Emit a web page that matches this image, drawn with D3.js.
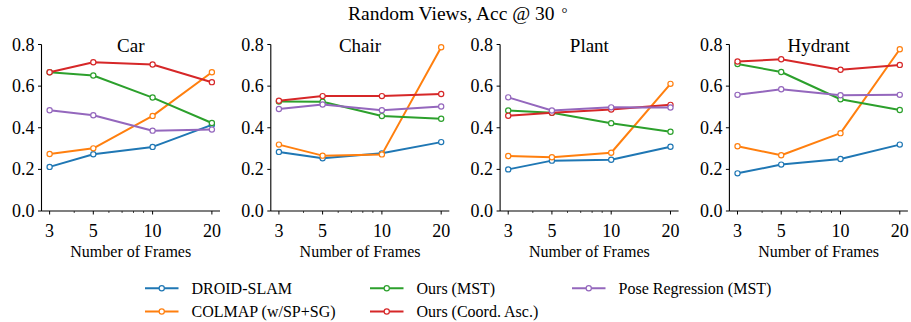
<!DOCTYPE html>
<html>
<head>
<meta charset="utf-8">
<script src="https://cdn.jsdelivr.net/npm/d3@7"></script>
<style>
  body { margin: 0; background: #fff; }
  svg { display: block; font-family: "Liberation Serif", "Times New Roman", serif; }
</style>
</head>
<body>
<svg id="chart" width="911" height="322"></svg>
<script>
const frames = [3, 5, 10, 20];
const panels = ["Car", "Chair", "Plant", "Hydrant"];
const yTicks = [0.0, 0.2, 0.4, 0.6, 0.8];
const minorTicks = [4, 6, 7, 8, 9];

const methods = ["DROID-SLAM", "COLMAP (w/SP+SG)", "Ours (MST)", "Ours (Coord. Asc.)", "Pose Regression (MST)"];
const colors = ["#1f77b4", "#ff7f0e", "#2ca02c", "#d62728", "#9467bd"];

// values per panel, in method order
const droidSlam = [
  [0.212, 0.273, 0.308, 0.414],
  [0.284, 0.253, 0.277, 0.331],
  [0.200, 0.242, 0.246, 0.309],
  [0.181, 0.223, 0.250, 0.319]
];
const colmap = [
  [0.274, 0.301, 0.457, 0.667],
  [0.319, 0.266, 0.272, 0.787],
  [0.264, 0.258, 0.280, 0.611],
  [0.311, 0.268, 0.374, 0.777]
];
const oursMst = [
  [0.667, 0.651, 0.545, 0.423],
  [0.526, 0.525, 0.456, 0.443],
  [0.483, 0.472, 0.422, 0.381],
  [0.706, 0.668, 0.537, 0.485]
];
const oursCoord = [
  [0.667, 0.715, 0.704, 0.619],
  [0.530, 0.552, 0.552, 0.562],
  [0.458, 0.472, 0.488, 0.510],
  [0.718, 0.729, 0.679, 0.702]
];
const poseReg = [
  [0.484, 0.460, 0.386, 0.391],
  [0.490, 0.512, 0.484, 0.502],
  [0.546, 0.483, 0.498, 0.497],
  [0.558, 0.585, 0.556, 0.558]
];
const series = [droidSlam, colmap, oursMst, oursCoord, poseReg];

const svg = d3.select("#chart");
const plotLefts = [41.5, 270.8, 500.1, 729.4];
const plotW = 178.5;
const plotTop = 44.5, plotBottom = 211;

// matplotlib-style 5% margin in log space
const pad = Math.pow(20 / 3, 0.05);
const y = d3.scaleLinear().domain([0, 0.8]).range([plotBottom, plotTop]);

const title = svg.append("text")
  .attr("x", 348).attr("y", 20)
  .attr("font-size", "19.5px")
  .text("Random Views, Acc @ 30");
title.append("tspan").attr("dx", 7).attr("dy", -2).attr("font-size", "15px").text("°");

panels.forEach((name, p) => {
  const x = d3.scaleLog().domain([3 / pad, 20 * pad]).range([plotLefts[p], plotLefts[p] + plotW]);
  const g = svg.append("g");
  const [x0, x1] = x.range();

  // spines
  g.append("line").attr("x1", x0).attr("x2", x0)
    .attr("y1", plotTop).attr("y2", plotBottom).attr("stroke", "#000").attr("stroke-width", 1.1);
  g.append("line").attr("x1", x0).attr("x2", x1)
    .attr("y1", plotBottom).attr("y2", plotBottom).attr("stroke", "#000").attr("stroke-width", 1.1);

  // y ticks
  yTicks.forEach(t => {
    g.append("line").attr("x1", x0 - 3.5).attr("x2", x0)
      .attr("y1", y(t)).attr("y2", y(t)).attr("stroke", "#000").attr("stroke-width", 1);
    g.append("text").attr("x", x0 - 7).attr("y", y(t) + 6)
      .attr("text-anchor", "end").attr("font-size", "18px").text(t.toFixed(1));
  });

  // x ticks
  frames.forEach(f => {
    g.append("line").attr("x1", x(f)).attr("x2", x(f))
      .attr("y1", plotBottom).attr("y2", plotBottom + 3.5).attr("stroke", "#000").attr("stroke-width", 1);
    g.append("text").attr("x", x(f)).attr("y", 237)
      .attr("text-anchor", "middle").attr("font-size", "18px").text(f);
  });
  minorTicks.forEach(f => {
    g.append("line").attr("x1", x(f)).attr("x2", x(f))
      .attr("y1", plotBottom).attr("y2", plotBottom + 2).attr("stroke", "#000").attr("stroke-width", 0.7);
  });

  g.append("text").attr("x", (x0 + x1) / 2).attr("y", 256.5)
    .attr("text-anchor", "middle").attr("font-size", "16px").text("Number of Frames");

  g.append("text").attr("x", (x0 + x1) / 2).attr("y", 52)
    .attr("text-anchor", "middle").attr("font-size", "19px").text(name);

  const line = d3.line().x((d, i) => x(frames[i])).y(d => y(d));
  series.forEach((s, k) => {
    g.append("path").datum(s[p]).attr("d", line)
      .attr("fill", "none").attr("stroke", colors[k]).attr("stroke-width", 2)
      .attr("stroke-linejoin", "round").attr("stroke-linecap", "round");
    g.selectAll(null).data(s[p]).enter().append("circle")
      .attr("cx", (d, i) => x(frames[i])).attr("cy", d => y(d)).attr("r", 2.6)
      .attr("fill", "#fff").attr("stroke", colors[k]).attr("stroke-width", 1.2);
  });
});

// legend, filled column by column (ncol = 3)
const legX = [145, 370, 572];
const legY = [288.3, 311.5];
methods.forEach((m, k) => {
  const col = Math.floor(k / 2), row = k % 2;
  const lx = legX[col], ly = legY[row];
  const lg = svg.append("g");
  lg.append("line").attr("x1", lx).attr("x2", lx + 33.5).attr("y1", ly).attr("y2", ly)
    .attr("stroke", colors[k]).attr("stroke-width", 2);
  lg.append("circle").attr("cx", lx + 16.75).attr("cy", ly).attr("r", 2.6)
    .attr("fill", "#fff").attr("stroke", colors[k]).attr("stroke-width", 1.2);
  lg.append("text").attr("x", lx + 46.5).attr("y", ly + 5.5)
    .attr("font-size", "16px").text(m);
});
</script>
</body>
</html>
